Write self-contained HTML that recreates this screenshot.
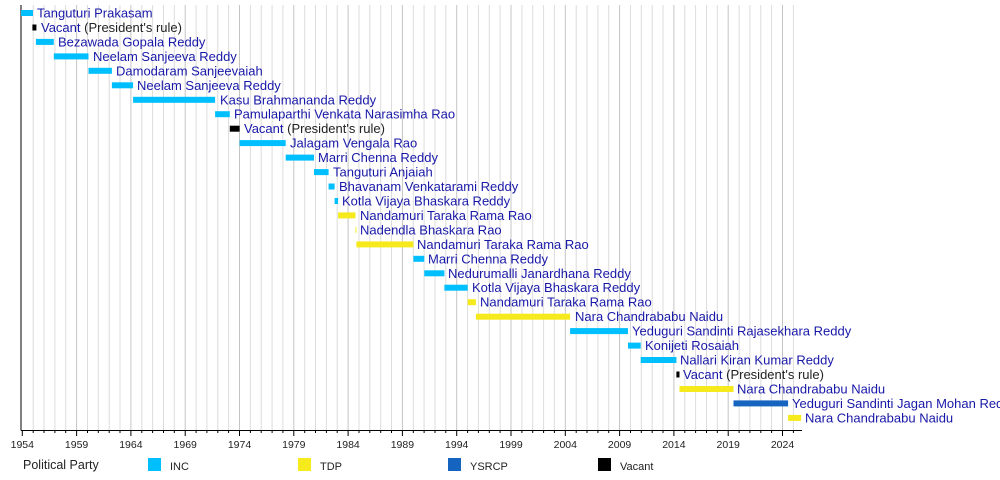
<!DOCTYPE html>
<html><head><meta charset="utf-8"><style>
body{margin:0;background:#fff}
svg{display:block;font-family:"Liberation Sans",sans-serif}
.l{font-size:13px;fill:#1818a8}
.k{fill:#222}
.t{font-size:10.5px;fill:#222;text-anchor:middle}
.g{font-size:11px;fill:#222}
</style></head><body>
<svg width="1000" height="480" viewBox="0 0 1000 480">
<g stroke="#dcdcdc" stroke-width="1">
<line x1="33.2" y1="5" x2="33.2" y2="430"/><line x1="44" y1="5" x2="44" y2="430"/><line x1="54.9" y1="5" x2="54.9" y2="430"/><line x1="65.7" y1="5" x2="65.7" y2="430"/>
<line x1="87.5" y1="5" x2="87.5" y2="430"/><line x1="98.3" y1="5" x2="98.3" y2="430"/><line x1="109.2" y1="5" x2="109.2" y2="430"/><line x1="120" y1="5" x2="120" y2="430"/>
<line x1="141.8" y1="5" x2="141.8" y2="430"/><line x1="152.6" y1="5" x2="152.6" y2="430"/><line x1="163.5" y1="5" x2="163.5" y2="430"/><line x1="174.3" y1="5" x2="174.3" y2="430"/>
<line x1="196.1" y1="5" x2="196.1" y2="430"/><line x1="206.9" y1="5" x2="206.9" y2="430"/><line x1="217.8" y1="5" x2="217.8" y2="430"/><line x1="228.6" y1="5" x2="228.6" y2="430"/>
<line x1="250.4" y1="5" x2="250.4" y2="430"/><line x1="261.2" y1="5" x2="261.2" y2="430"/><line x1="272.1" y1="5" x2="272.1" y2="430"/><line x1="282.9" y1="5" x2="282.9" y2="430"/>
<line x1="304.7" y1="5" x2="304.7" y2="430"/><line x1="315.5" y1="5" x2="315.5" y2="430"/><line x1="326.4" y1="5" x2="326.4" y2="430"/><line x1="337.2" y1="5" x2="337.2" y2="430"/>
<line x1="359" y1="5" x2="359" y2="430"/><line x1="369.8" y1="5" x2="369.8" y2="430"/><line x1="380.7" y1="5" x2="380.7" y2="430"/><line x1="391.5" y1="5" x2="391.5" y2="430"/>
<line x1="413.3" y1="5" x2="413.3" y2="430"/><line x1="424.1" y1="5" x2="424.1" y2="430"/><line x1="435" y1="5" x2="435" y2="430"/><line x1="445.8" y1="5" x2="445.8" y2="430"/>
<line x1="467.6" y1="5" x2="467.6" y2="430"/><line x1="478.4" y1="5" x2="478.4" y2="430"/><line x1="489.3" y1="5" x2="489.3" y2="430"/><line x1="500.1" y1="5" x2="500.1" y2="430"/>
<line x1="521.9" y1="5" x2="521.9" y2="430"/><line x1="532.7" y1="5" x2="532.7" y2="430"/><line x1="543.6" y1="5" x2="543.6" y2="430"/><line x1="554.4" y1="5" x2="554.4" y2="430"/>
<line x1="576.2" y1="5" x2="576.2" y2="430"/><line x1="587" y1="5" x2="587" y2="430"/><line x1="597.9" y1="5" x2="597.9" y2="430"/><line x1="608.7" y1="5" x2="608.7" y2="430"/>
<line x1="630.5" y1="5" x2="630.5" y2="430"/><line x1="641.3" y1="5" x2="641.3" y2="430"/><line x1="652.2" y1="5" x2="652.2" y2="430"/><line x1="663" y1="5" x2="663" y2="430"/>
<line x1="684.8" y1="5" x2="684.8" y2="430"/><line x1="695.6" y1="5" x2="695.6" y2="430"/><line x1="706.5" y1="5" x2="706.5" y2="430"/><line x1="717.3" y1="5" x2="717.3" y2="430"/>
<line x1="739.1" y1="5" x2="739.1" y2="430"/><line x1="749.9" y1="5" x2="749.9" y2="430"/><line x1="760.8" y1="5" x2="760.8" y2="430"/><line x1="771.6" y1="5" x2="771.6" y2="430"/>
<line x1="793.4" y1="5" x2="793.4" y2="430"/>
</g>
<g stroke="#c4c4c4" stroke-width="1">
<line x1="76.6" y1="5" x2="76.6" y2="430"/><line x1="130.9" y1="5" x2="130.9" y2="430"/><line x1="185.2" y1="5" x2="185.2" y2="430"/><line x1="239.5" y1="5" x2="239.5" y2="430"/><line x1="293.8" y1="5" x2="293.8" y2="430"/><line x1="348.1" y1="5" x2="348.1" y2="430"/><line x1="402.4" y1="5" x2="402.4" y2="430"/><line x1="456.7" y1="5" x2="456.7" y2="430"/><line x1="511" y1="5" x2="511" y2="430"/><line x1="565.3" y1="5" x2="565.3" y2="430"/><line x1="619.6" y1="5" x2="619.6" y2="430"/><line x1="673.9" y1="5" x2="673.9" y2="430"/><line x1="728.2" y1="5" x2="728.2" y2="430"/><line x1="782.5" y1="5" x2="782.5" y2="430"/>
</g>
<g stroke="#000" stroke-width="1">
<line x1="21" y1="5" x2="21" y2="430.5"/><line x1="21" y1="430.5" x2="802" y2="430.5"/>
</g>
<g stroke="#000" stroke-width="1">
<line x1="22.3" y1="430" x2="22.3" y2="436"/><line x1="76.6" y1="430" x2="76.6" y2="436"/><line x1="130.9" y1="430" x2="130.9" y2="436"/><line x1="185.2" y1="430" x2="185.2" y2="436"/><line x1="239.5" y1="430" x2="239.5" y2="436"/><line x1="293.8" y1="430" x2="293.8" y2="436"/><line x1="348.1" y1="430" x2="348.1" y2="436"/><line x1="402.4" y1="430" x2="402.4" y2="436"/><line x1="456.7" y1="430" x2="456.7" y2="436"/><line x1="511" y1="430" x2="511" y2="436"/><line x1="565.3" y1="430" x2="565.3" y2="436"/><line x1="619.6" y1="430" x2="619.6" y2="436"/><line x1="673.9" y1="430" x2="673.9" y2="436"/><line x1="728.2" y1="430" x2="728.2" y2="436"/><line x1="782.5" y1="430" x2="782.5" y2="436"/>
</g>
<g stroke="#000" stroke-width="1">
<line x1="33.2" y1="430" x2="33.2" y2="433"/><line x1="44" y1="430" x2="44" y2="433"/><line x1="54.9" y1="430" x2="54.9" y2="433"/><line x1="65.7" y1="430" x2="65.7" y2="433"/><line x1="87.5" y1="430" x2="87.5" y2="433"/><line x1="98.3" y1="430" x2="98.3" y2="433"/><line x1="109.2" y1="430" x2="109.2" y2="433"/><line x1="120" y1="430" x2="120" y2="433"/><line x1="141.8" y1="430" x2="141.8" y2="433"/><line x1="152.6" y1="430" x2="152.6" y2="433"/><line x1="163.5" y1="430" x2="163.5" y2="433"/><line x1="174.3" y1="430" x2="174.3" y2="433"/><line x1="196.1" y1="430" x2="196.1" y2="433"/><line x1="206.9" y1="430" x2="206.9" y2="433"/><line x1="217.8" y1="430" x2="217.8" y2="433"/><line x1="228.6" y1="430" x2="228.6" y2="433"/><line x1="250.4" y1="430" x2="250.4" y2="433"/><line x1="261.2" y1="430" x2="261.2" y2="433"/><line x1="272.1" y1="430" x2="272.1" y2="433"/><line x1="282.9" y1="430" x2="282.9" y2="433"/><line x1="304.7" y1="430" x2="304.7" y2="433"/><line x1="315.5" y1="430" x2="315.5" y2="433"/><line x1="326.4" y1="430" x2="326.4" y2="433"/><line x1="337.2" y1="430" x2="337.2" y2="433"/><line x1="359" y1="430" x2="359" y2="433"/><line x1="369.8" y1="430" x2="369.8" y2="433"/><line x1="380.7" y1="430" x2="380.7" y2="433"/><line x1="391.5" y1="430" x2="391.5" y2="433"/><line x1="413.3" y1="430" x2="413.3" y2="433"/><line x1="424.1" y1="430" x2="424.1" y2="433"/><line x1="435" y1="430" x2="435" y2="433"/><line x1="445.8" y1="430" x2="445.8" y2="433"/><line x1="467.6" y1="430" x2="467.6" y2="433"/><line x1="478.4" y1="430" x2="478.4" y2="433"/><line x1="489.3" y1="430" x2="489.3" y2="433"/><line x1="500.1" y1="430" x2="500.1" y2="433"/><line x1="521.9" y1="430" x2="521.9" y2="433"/><line x1="532.7" y1="430" x2="532.7" y2="433"/><line x1="543.6" y1="430" x2="543.6" y2="433"/><line x1="554.4" y1="430" x2="554.4" y2="433"/><line x1="576.2" y1="430" x2="576.2" y2="433"/><line x1="587" y1="430" x2="587" y2="433"/><line x1="597.9" y1="430" x2="597.9" y2="433"/><line x1="608.7" y1="430" x2="608.7" y2="433"/><line x1="630.5" y1="430" x2="630.5" y2="433"/><line x1="641.3" y1="430" x2="641.3" y2="433"/><line x1="652.2" y1="430" x2="652.2" y2="433"/><line x1="663" y1="430" x2="663" y2="433"/><line x1="684.8" y1="430" x2="684.8" y2="433"/><line x1="695.6" y1="430" x2="695.6" y2="433"/><line x1="706.5" y1="430" x2="706.5" y2="433"/><line x1="717.3" y1="430" x2="717.3" y2="433"/><line x1="739.1" y1="430" x2="739.1" y2="433"/><line x1="749.9" y1="430" x2="749.9" y2="433"/><line x1="760.8" y1="430" x2="760.8" y2="433"/><line x1="771.6" y1="430" x2="771.6" y2="433"/><line x1="793.4" y1="430" x2="793.4" y2="433"/>
</g>
<g class="t">
<text x="22.3" y="448">1954</text><text x="76.6" y="448">1959</text><text x="130.9" y="448">1964</text><text x="185.2" y="448">1969</text><text x="239.5" y="448">1974</text><text x="293.8" y="448">1979</text><text x="348.1" y="448">1984</text><text x="402.4" y="448">1989</text><text x="456.7" y="448">1994</text><text x="511" y="448">1999</text><text x="565.3" y="448">2004</text><text x="619.6" y="448">2009</text><text x="673.9" y="448">2014</text><text x="728.2" y="448">2019</text><text x="782.5" y="448">2024</text>
</g>
<g>
<rect x="21" y="10" width="12" height="6" fill="#00bfff"/>
<rect x="32.4" y="24.5" width="4" height="6" fill="#000"/>
<rect x="35.9" y="38.9" width="17.9" height="6" fill="#00bfff"/>
<rect x="53.8" y="53.4" width="34.7" height="6" fill="#00bfff"/>
<rect x="88.5" y="67.8" width="23.4" height="6" fill="#00bfff"/>
<rect x="111.9" y="82.3" width="21.2" height="6" fill="#00bfff"/>
<rect x="133.1" y="96.8" width="82" height="6" fill="#00bfff"/>
<rect x="215.1" y="111.2" width="14.7" height="6" fill="#00bfff"/>
<rect x="229.8" y="125.7" width="9.8" height="6" fill="#000"/>
<rect x="239.6" y="140.1" width="46.1" height="6" fill="#00bfff"/>
<rect x="285.7" y="154.6" width="28.3" height="6" fill="#00bfff"/>
<rect x="314" y="169.1" width="14.6" height="6" fill="#00bfff"/>
<rect x="328.6" y="183.5" width="6" height="6" fill="#00bfff"/>
<rect x="334.6" y="198" width="3.5" height="6" fill="#00bfff"/>
<rect x="338.1" y="212.4" width="17.4" height="6" fill="#f6ea1c"/>
<rect x="355.5" y="226.9" width="0.9" height="6" fill="#f6ea1c"/>
<rect x="356.4" y="241.4" width="57" height="6" fill="#f6ea1c"/>
<rect x="413.4" y="255.8" width="10.9" height="6" fill="#00bfff"/>
<rect x="424.3" y="270.3" width="20.1" height="6" fill="#00bfff"/>
<rect x="444.4" y="284.7" width="23.3" height="6" fill="#00bfff"/>
<rect x="467.7" y="299.2" width="8.2" height="6" fill="#f6ea1c"/>
<rect x="475.9" y="313.7" width="94.2" height="6" fill="#f6ea1c"/>
<rect x="570.1" y="328.1" width="57.9" height="6" fill="#00bfff"/>
<rect x="628" y="342.6" width="12.7" height="6" fill="#00bfff"/>
<rect x="640.7" y="357" width="35.7" height="6" fill="#00bfff"/>
<rect x="676.4" y="371.5" width="3.1" height="6" fill="#000"/>
<rect x="679.5" y="386" width="54" height="6" fill="#f6ea1c"/>
<rect x="733.5" y="400.4" width="54.6" height="6" fill="#1565c0"/>
<rect x="788.1" y="414.9" width="13" height="6" fill="#f6ea1c"/>
</g>
<g class="l">
<text x="37" y="17.5">Tanguturi Prakasam</text>
<text x="41" y="32">Vacant <tspan class="k">(President's rule)</tspan></text>
<text x="58" y="46.4">Bezawada Gopala Reddy</text>
<text x="93" y="60.9">Neelam Sanjeeva Reddy</text>
<text x="116" y="75.3">Damodaram Sanjeevaiah</text>
<text x="137" y="89.8">Neelam Sanjeeva Reddy</text>
<text x="220" y="104.3">Kasu Brahmananda Reddy</text>
<text x="234" y="118.7">Pamulaparthi Venkata Narasimha Rao</text>
<text x="244" y="133.2">Vacant <tspan class="k">(President's rule)</tspan></text>
<text x="290" y="147.6">Jalagam Vengala Rao</text>
<text x="318" y="162.1">Marri Chenna Reddy</text>
<text x="333" y="176.6">Tanguturi Anjaiah</text>
<text x="339" y="191">Bhavanam Venkatarami Reddy</text>
<text x="342" y="205.5">Kotla Vijaya Bhaskara Reddy</text>
<text x="360" y="219.9">Nandamuri Taraka Rama Rao</text>
<text x="360" y="234.4">Nadendla Bhaskara Rao</text>
<text x="417" y="248.9">Nandamuri Taraka Rama Rao</text>
<text x="428" y="263.3">Marri Chenna Reddy</text>
<text x="448" y="277.8">Nedurumalli Janardhana Reddy</text>
<text x="472" y="292.2">Kotla Vijaya Bhaskara Reddy</text>
<text x="480" y="306.7">Nandamuri Taraka Rama Rao</text>
<text x="575" y="321.2">Nara Chandrababu Naidu</text>
<text x="632" y="335.6">Yeduguri Sandinti Rajasekhara Reddy</text>
<text x="645" y="350.1">Konijeti Rosaiah</text>
<text x="680" y="364.5">Nallari Kiran Kumar Reddy</text>
<text x="683" y="379">Vacant <tspan class="k">(President's rule)</tspan></text>
<text x="737" y="393.5">Nara Chandrababu Naidu</text>
<text x="792" y="407.9">Yeduguri Sandinti Jagan Mohan Reddy</text>
<text x="805" y="422.4">Nara Chandrababu Naidu</text>
</g>
<g class="g">
<text x="23" y="469" style="font-size:12.5px">Political Party</text>
<rect x="148" y="458" width="13" height="13" fill="#00bfff"/><text x="170" y="470">INC</text>
<rect x="298" y="458" width="13" height="13" fill="#f6ea1c"/><text x="320" y="470">TDP</text>
<rect x="448" y="458" width="13" height="13" fill="#1565c0"/><text x="470" y="470">YSRCP</text>
<rect x="598" y="458" width="13" height="13" fill="#000"/><text x="620" y="470">Vacant</text>
</g>
</svg>
</body></html>
